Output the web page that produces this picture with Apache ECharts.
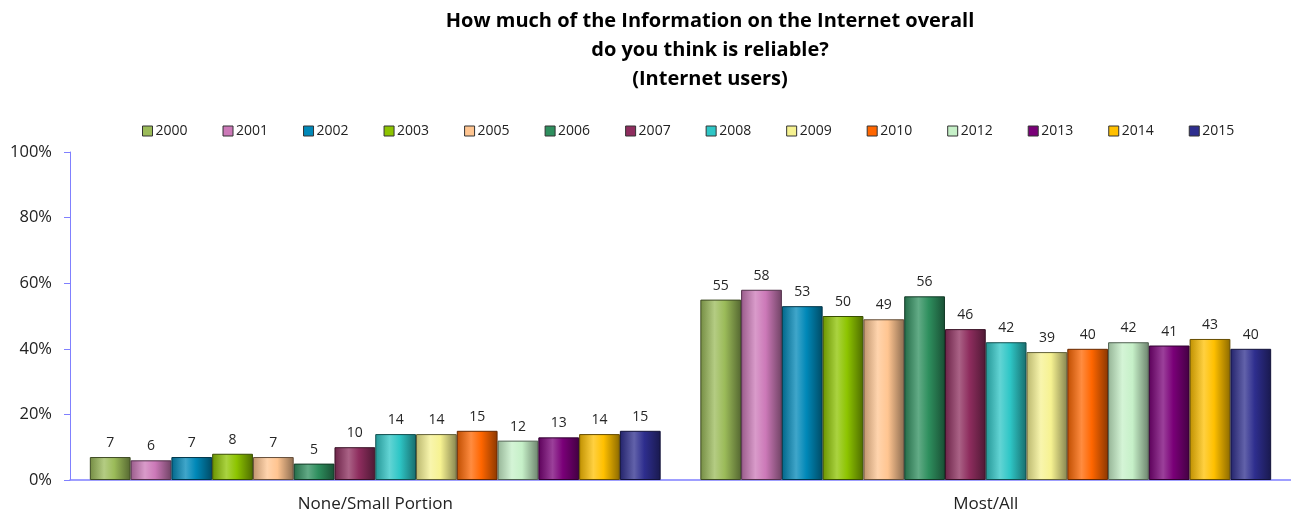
<!DOCTYPE html>
<html>
<head>
<meta charset="utf-8">
<script src="https://cdn.jsdelivr.net/npm/echarts@6/dist/echarts.min.js"></script>
<style>
  html, body { margin: 0; padding: 0; background: #fff; }
  #chart { width: 1291px; height: 516px; }
</style>
</head>
<body>
<div id="chart"></div>
<script>
// chart data
var categories = ['None/Small Portion', 'Most/All'];
var years = ['2000', '2001', '2002', '2003', '2005', '2006', '2007', '2008', '2009', '2010', '2012', '2013', '2014', '2015'];
var noneSmall = [7, 6, 7, 8, 7, 5, 10, 14, 14, 15, 12, 13, 14, 15];
var mostAll = [55, 58, 53, 50, 49, 56, 46, 42, 39, 40, 42, 41, 43, 40];
var yTicks = [0, 20, 40, 60, 80, 100];

var baseColors = ['#9BBB59', '#CC79B8', '#0088B8', '#8DC400', '#FFC591', '#2E8F5E', '#8E2D5E',
                  '#2EC6C6', '#F6F291', '#FF6600', '#C6F0C8', '#7A0078', '#FFC000', '#2E2E8E'];

// lighten / darken a hex colour
function shade(hex, amt) {
    var n = parseInt(hex.slice(1), 16);
    var r = (n >> 16) & 255, g = (n >> 8) & 255, b = n & 255;
    function f(c) {
        var v = amt >= 0 ? c + (255 - c) * amt : c * (1 + amt);
        return Math.max(0, Math.min(255, Math.round(v)));
    }
    return 'rgb(' + f(r) + ',' + f(g) + ',' + f(b) + ')';
}

function barFill(hex) {
    return new echarts.graphic.LinearGradient(0, 0, 1, 0, [
        { offset: 0, color: shade(hex, -0.25) },
        { offset: 0.35, color: shade(hex, 0.25) },
        { offset: 0.6, color: hex },
        { offset: 1, color: shade(hex, -0.45) }
    ]);
}

var chart = echarts.init(document.getElementById('chart'));
var font = '"Open Sans", "Liberation Sans", sans-serif';

var series = years.map(function(y, i) {
    return {
        name: y,
        type: 'bar',
        barGap: '0%',
        barCategoryGap: '6.5%',
        data: [noneSmall[i], mostAll[i]],
        itemStyle: {
            color: barFill(baseColors[i]),
            borderColor: shade(baseColors[i], -0.6),
            borderWidth: 1
        },
        label: {
            show: true,
            position: 'top',
            distance: 7,
            color: '#262626',
            fontSize: 14,
            fontFamily: font
        }
    };
});

chart.setOption({
    animation: false,
    color: baseColors,
    title: {
        text: 'How much of the Information on the Internet overall\ndo you think is reliable?\n(Internet users)',
        left: 705,
        textAlign: 'center',
        top: 2,
        textStyle: {
            fontFamily: font,
            fontSize: 20,
            fontWeight: 'bold',
            color: '#000',
            lineHeight: 29
        }
    },
    legend: {
        top: 119,
        left: 137,
        itemWidth: 10,
        itemHeight: 10,
        itemGap: 35,
        textStyle: { fontFamily: font, fontSize: 14, color: '#222', padding: [0, 0, 0, -2] },
        data: years.map(function(y, i) {
            return { name: y, icon: 'rect', itemStyle: { color: baseColors[i], borderColor: '#333', borderWidth: 1 } };
        })
    },
    grid: {
        left: 70,
        right: 0,
        top: 152,
        bottom: 36
    },
    xAxis: {
        type: 'category',
        data: categories,
        axisLine: { lineStyle: { color: '#8080FF', width: 1.5 } },
        axisTick: { show: false },
        axisLabel: { fontFamily: font, fontSize: 17, color: '#222', margin: 16 }
    },
    yAxis: {
        type: 'value',
        min: yTicks[0],
        max: yTicks[yTicks.length - 1],
        interval: 20,
        axisLine: { show: true, lineStyle: { color: '#8080FF', width: 1 } },
        axisTick: { show: true, inside: false, length: 6, lineStyle: { color: '#8080FF' } },
        splitLine: { show: false },
        axisLabel: {
            fontFamily: font,
            fontSize: 16.5,
            color: '#222',
            margin: 18,
            formatter: function(v) { return v + '%'; }
        }
    },
    series: series
});

window.addEventListener('resize', function() {
    chart.resize();
});
</script>
</body>
</html>
